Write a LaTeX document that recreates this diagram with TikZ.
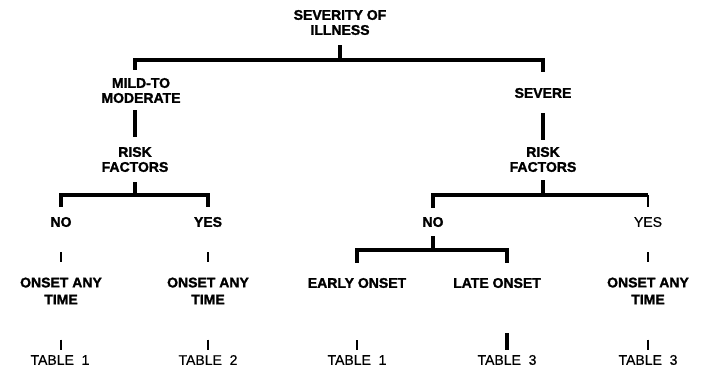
\documentclass[tikz,border=0pt]{standalone}
\usepackage{fontspec}
\setmainfont{Liberation Sans}
\begin{document}
\begin{tikzpicture}[x=1pt,y=-1pt]
    % Define Styles
        \tikzstyle{lbl} = [font=\bfseries\fontsize{14}{15}\selectfont\addfontfeature{FakeBold=1.5}, align=center, inner sep=2pt]
        \tikzstyle{onset} = [lbl, font=\bfseries\fontsize{14}{17}\selectfont\addfontfeature{FakeBold=1.5}]
        \tikzstyle{tbl} = [font=\fontsize{14}{15}\selectfont\addfontfeature{FakeBold=0.6}, inner sep=2pt]
        \tikzstyle{bar} = [draw, line width=4.5pt]
        \tikzstyle{bartwo} = [draw, line width=3.5pt]
        \tikzstyle{stem} = [draw, line width=4pt]
        \tikzstyle{tick} = [draw, line width=2.2pt]
        \useasboundingbox (0,0) rectangle (701,372);
    % Place nodes
        \node [lbl] (sev) at (340,22.5) {SEVERITY OF\\ILLNESS};
        \node [lbl] (mild) at (141,90.5) {MILD-TO\\MODERATE};
        \node [lbl] (severe) at (543,93) {SEVERE};
        \node [lbl] (riskl) at (135,159.5) {RISK\\FACTORS};
        \node [lbl] (riskr) at (543,159.5) {RISK\\FACTORS};
        \node [lbl] (nol) at (61,222) {NO};
        \node [lbl] (yesl) at (208,222) {YES};
        \node [lbl] (nor) at (433,222) {NO};
        \node [tbl] (yesr) at (648,222) {YES};
        \node [onset] (onl) at (61,291) {ONSET ANY\\TIME};
        \node [onset] (onm) at (208,291) {ONSET ANY\\TIME};
        \node [onset] (onr) at (648,291) {ONSET ANY\\TIME};
        \node [lbl] (early) at (357,283) {EARLY ONSET};
        \node [lbl] (late) at (497,283) {LATE ONSET};
        \node [tbl] (tone) at (60,360) {TABLE\ \ 1};
        \node [tbl] (ttwo) at (208,360) {TABLE\ \ 2};
        \node [tbl] (tthree) at (357,360) {TABLE\ \ 1};
        \node [tbl] (tfour) at (507,360) {TABLE\ \ 3};
        \node [tbl] (tfive) at (648,360) {TABLE\ \ 3};
        \coordinate (jtop) at (340,60);
        \coordinate (jl) at (135,195);
        \coordinate (jr) at (543,195);
        \coordinate (jn) at (433,250);
    % Edges
        \draw[bar, shorten <=8pt] (sev) -- (jtop);
        \draw[bar, shorten <=6pt] (mild.north -| riskl) |- (jtop);
        \draw[bar, shorten >=14pt] (jtop) -| (severe);
        \draw[stem, shorten <=5pt, shorten >=8pt] (mild.south -| riskl) -- (riskl);
        \draw[stem, shorten <=13pt, shorten >=5pt] (severe) -- (riskr);
        \draw[bartwo, shorten <=8pt] (riskl) -- (jl);
        \draw[bartwo, shorten <=8pt] (nol) |- (jl);
        \draw[bartwo, shorten >=8pt] (jl) -| (yesl);
        \draw[bartwo, shorten <=6pt] (riskr) -- (jr);
        \draw[bartwo, shorten <=7pt] (nor) |- (jr) -- (jr -| yesr);
        \draw[tick, shorten >=8pt] (jr -| yesr) -- (yesr);
        \draw[tick, shorten <=23pt, shorten >=13pt] (nol) -- (onl);
        \draw[tick, shorten <=23pt, shorten >=13pt] (yesl) -- (onm);
        \draw[tick, shorten <=23pt, shorten >=13pt] (yesr) -- (onr);
        \draw[tick, shorten <=33pt, shorten >=3pt] (onl) -- (onl |- tone.north);
        \draw[tick, shorten <=33pt, shorten >=3pt] (onm) -- (ttwo);
        \draw[tick, shorten <=33pt, shorten >=3pt] (onr) -- (tfive);
        \draw[bartwo, shorten <=7pt] (nor) -- (jn);
        \draw[bartwo, shorten <=13pt] (early) |- (jn);
        \draw[bartwo, shorten >=13pt] (jn) -| (tfour |- late.north);
        \draw[tick, shorten <=50pt, shorten >=3pt] (early) -- (tthree);
        \draw[stem, shorten <=43pt, shorten >=3pt] (tfour |- late.south) -- (tfour);
\end{tikzpicture}
\end{document}
